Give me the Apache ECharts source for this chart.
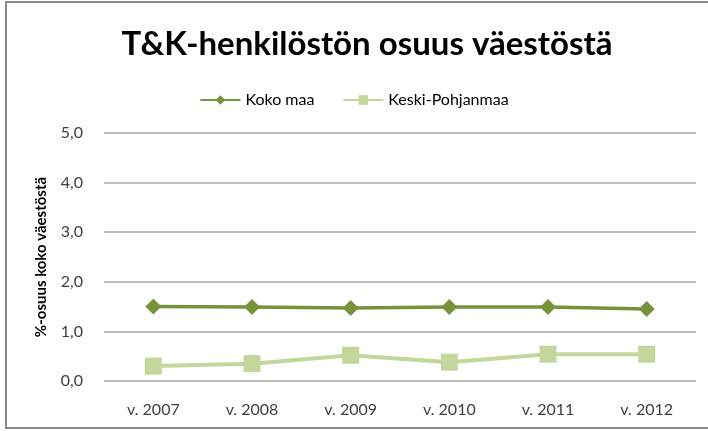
<!DOCTYPE html>
<html>
<head>
<meta charset="utf-8">
<script src="https://cdn.jsdelivr.net/npm/echarts@6/dist/echarts.min.js"></script>
<style>
	html, body { margin: 0; padding: 0; background: #fff; }
	#chart { width: 708px; height: 431px; }
</style>
</head>
<body>
<div id="chart"></div>
<script>
var years = ['v. 2007', 'v. 2008', 'v. 2009', 'v. 2010', 'v. 2011', 'v. 2012'];
var kokoMaa = [1.50, 1.49, 1.47, 1.49, 1.49, 1.45];
var keskiPohjanmaa = [0.30, 0.35, 0.52, 0.38, 0.54, 0.54];

var font = 'Lato, "Open Sans", sans-serif';
var chart = echarts.init(document.getElementById('chart'));

var option = {
	backgroundColor: '#fff',
	animation: false,
	title: {
		text: 'T&K-henkilöstön osuus väestöstä',
		left: 362,
		top: 23,
		textAlign: 'center',
		textStyle: { fontFamily: font, fontSize: 33, fontWeight: 'bold', color: '#000' }
	},
	legend: {
		top: 87,
		left: 'center',
		itemWidth: 40,
		itemHeight: 12,
		itemGap: 28,
		textStyle: { fontFamily: font, fontSize: 16, color: '#000' },
		data: ['Koko maa', 'Keski-Pohjanmaa']
	},
	grid: { left: 104, right: 12, top: 133, bottom: 50 },
	xAxis: {
		type: 'category',
		data: years,
		axisLine: { show: false },
		axisTick: { show: false },
		axisLabel: { fontFamily: font, fontSize: 16, color: '#404040', margin: 21 }
	},
	yAxis: {
		type: 'value',
		min: 0,
		max: 5,
		interval: 1,
		name: '%-osuus koko väestöstä',
		nameLocation: 'middle',
		nameGap: 55,
		nameRotate: 90,
		nameTextStyle: { fontFamily: font, fontSize: 15, fontWeight: 'bold', color: '#000' },
		axisLabel: {
			fontFamily: font, fontSize: 16, color: '#404040', margin: 21,
			formatter: function(v) { return v.toFixed(1).replace('.', ','); }
		},
		splitLine: { lineStyle: { color: '#a6a6a6', width: 1.5 } }
	},
	series: [{
		name: 'Koko maa',
		type: 'line',
		data: kokoMaa,
		color: '#77933c',
		symbol: 'diamond',
		symbolSize: 16,
		lineStyle: { width: 3.5 }
	}, {
		name: 'Keski-Pohjanmaa',
		type: 'line',
		data: keskiPohjanmaa,
		color: '#c3d69b',
		symbol: 'rect',
		symbolSize: 17,
		lineStyle: { width: 4 }
	}],
	graphic: [{
		type: 'rect',
		shape: { x: 6, y: 2, width: 720, height: 426 },
		style: { fill: 'none', stroke: '#8a8a8a', lineWidth: 2 },
		silent: true
	}]
};

chart.setOption(option);
</script>
</body>
</html>
